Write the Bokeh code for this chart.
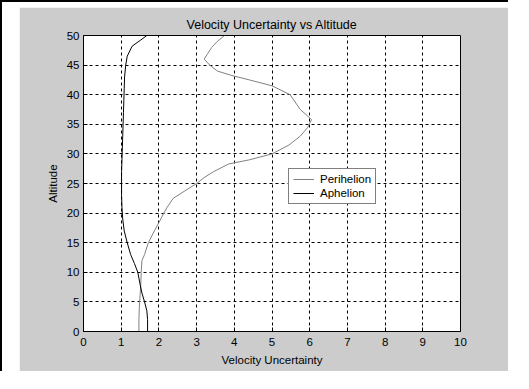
from bokeh.plotting import figure
from bokeh.models import Legend, LegendItem, FixedTicker, Spacer
from bokeh.layouts import column, row
from bokeh.embed import file_html
from bokeh.resources import INLINE

# Perihelion (grey curve)
peri_vel = [1.47, 1.47, 1.48, 1.50, 1.52, 1.53, 1.55, 1.62, 1.72, 1.88, 2.05, 2.13, 2.22, 2.38,
            2.75, 3.00, 3.20, 3.45, 3.85, 4.40, 5.00, 5.45, 5.75, 5.95, 6.05, 5.75, 5.48, 5.00,
            4.40, 3.90, 3.55, 3.35, 3.20, 3.30, 3.40, 3.55, 3.74]
peri_alt = [0, 2, 4, 6, 8, 10, 12, 13, 15, 17, 19, 20, 21, 22.5,
            24, 25, 26, 27, 28.3, 29, 30, 31.5, 33, 34.5, 35.8, 37.5, 40, 41.5,
            42.5, 43.3, 44, 45, 46, 47, 48, 49, 50]

# Aphelion (black curve)
aph_vel = [1.70, 1.70, 1.68, 1.62, 1.55, 1.50, 1.44, 1.35, 1.25, 1.16, 1.08, 1.04, 1.02, 1.01,
           1.01, 1.01, 1.02, 1.03, 1.04, 1.05, 1.06, 1.07, 1.08, 1.09, 1.12, 1.16, 1.29, 1.51, 1.68]
aph_alt = [0, 2, 3.5, 5, 6.5, 8, 10, 11.5, 13, 15, 17, 19, 21, 23,
           25, 27, 29, 31, 33, 35, 37, 39, 41, 43, 45, 46.5, 48.2, 49.2, 50]

x_ticks = list(range(0, 11))
y_ticks = list(range(0, 51, 5))

FONT = "Liberation Sans"

p = figure(width=489, height=364, x_range=(0, 10), y_range=(0, 50),
           output_backend="svg", toolbar_location=None,
           title="Velocity Uncertainty vs Altitude",
           x_axis_label="Velocity Uncertainty", y_axis_label="Altitude",
           min_border_left=64, min_border_right=48, min_border_top=28, min_border_bottom=40,
           border_fill_color="#cccccc", background_fill_color="white",
           outline_line_color="black", outline_line_width=1)

p.title.align = "center"
p.title.text_font = FONT
p.title.text_font_size = "12.5px"
p.title.text_font_style = "normal"
p.title.text_color = "black"
p.title.standoff = 8

r1 = p.line(peri_vel, peri_alt, line_color="#808080", line_width=1)
r2 = p.line(aph_vel, aph_alt, line_color="black", line_width=1)

p.xaxis.ticker = FixedTicker(ticks=x_ticks)
p.yaxis.ticker = FixedTicker(ticks=y_ticks)

for ax in (p.xaxis[0], p.yaxis[0]):
    ax.axis_line_color = "black"
    ax.major_tick_in = 4
    ax.major_tick_out = 0
    ax.minor_tick_line_color = None
    ax.major_tick_line_color = "black"
    ax.major_label_text_font = FONT
    ax.major_label_text_font_size = "11.5px"
    ax.major_label_text_color = "black"
    ax.axis_label_text_font = FONT
    ax.axis_label_text_font_size = "11.5px"
    ax.axis_label_text_font_style = "normal"
    ax.axis_label_text_color = "black"

p.xaxis.major_label_standoff = 6
p.xaxis.axis_label_standoff = 5
p.yaxis.major_label_standoff = 4
p.yaxis.axis_label_standoff = 5

for g in (p.xgrid[0], p.ygrid[0]):
    g.grid_line_color = "black"
    g.grid_line_dash = "3 3"
    g.grid_line_width = 1
    g.grid_line_alpha = 1.0

legend = Legend(items=[LegendItem(label="Perihelion", renderers=[r1]),
                       LegendItem(label="Aphelion", renderers=[r2])],
                location=(205, 127))
legend.label_text_font = FONT
legend.label_text_font_size = "11.5px"
legend.label_text_color = "black"
legend.label_height = 12
legend.glyph_height = 12
legend.glyph_width = 21
legend.spacing = 2
legend.padding = 4
legend.margin = 0
legend.label_standoff = 6
legend.border_line_color = "black"
legend.border_line_width = 1
legend.background_fill_color = "white"
legend.background_fill_alpha = 1.0
p.add_layout(legend, "center")

layout = column(Spacer(height=5, width=1),
                row(Spacer(width=17, height=1), p),
                styles={"border-top": "2px solid black", "border-left": "2px solid black",
                        "background-color": "white"})

open("out.html", "w").write(file_html(layout, INLINE))
